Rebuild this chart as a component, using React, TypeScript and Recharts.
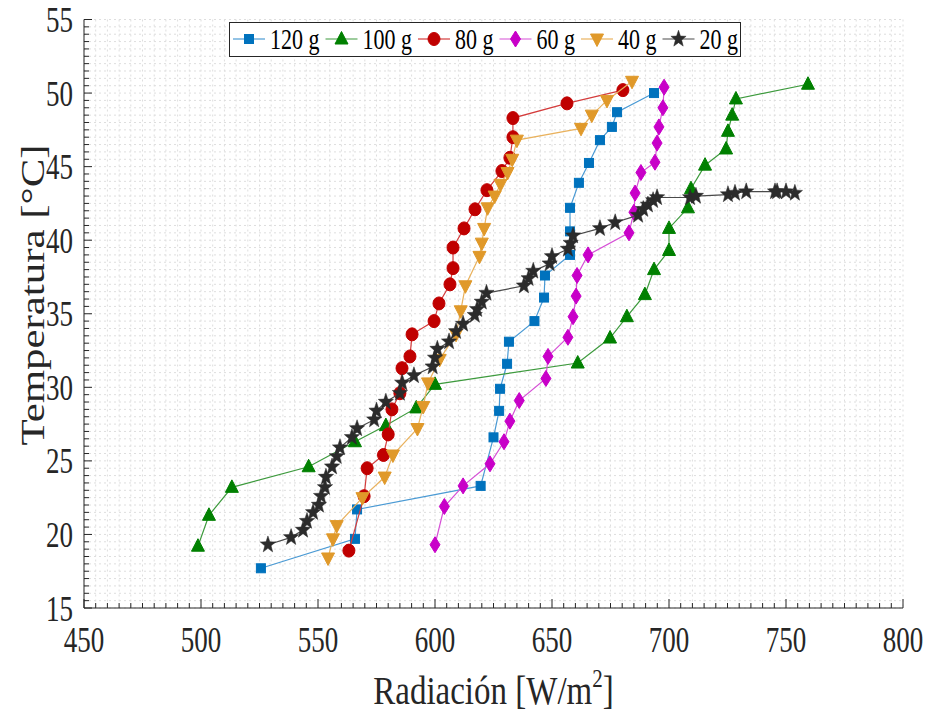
import { ComposedChart, Scatter, XAxis, YAxis, CartesianGrid } from 'recharts';

// Radiación (W/m2) and temperatura (°C), one pair of arrays per sample mass
const rad120 = [525.6, 565.8, 566.7, 619.5, 625, 627.4, 627.8, 630.8, 631.6, 642.5, 646.6, 647, 657.7, 657.7, 657.7, 661.5, 665.8, 670.5, 675.6, 677.8, 693.6];
const temp120 = [17.7, 19.7, 21.7, 23.3, 26.6, 28.4, 29.9, 31.6, 33.1, 34.5, 36.1, 37.6, 39.0, 40.6, 42.2, 43.9, 45.25, 46.8, 47.7, 48.7, 50.0];

const rad100 = [498.7, 503.4, 513.2, 546, 565.8, 579, 592, 600, 661, 674.8, 682, 689.7, 693.6, 700, 700, 708.1, 709.4, 715.4, 724.4, 725.2, 727, 728.6, 759.4];
const temp100 = [19.2, 21.3, 23.2, 24.6, 26.3, 27.4, 28.6, 30.2, 31.65, 33.35, 34.8, 36.3, 38.0, 39.3, 40.8, 42.2, 43.5, 45.1, 46.2, 47.4, 48.5, 49.6, 50.6];

const rad80 = [563.2, 569.7, 571, 578, 580, 581.6, 585, 585.9, 589.3, 590.2, 599.6, 601.7, 606.4, 607.7, 607.7, 612.4, 617.1, 622.2, 628.6, 632, 633.3, 633.3, 656.4, 680.3];
const temp80 = [18.9, 22.6, 24.5, 25.4, 26.8, 28.5, 29.6, 31.3, 32.1, 33.6, 34.5, 35.7, 37.0, 38.1, 39.5, 40.8, 42.1, 43.4, 44.7, 45.6, 47.0, 48.3, 49.3, 50.2];

const rad60 = [600, 604, 612, 623.5, 629.5, 632, 636, 647.4, 648.3, 656.8, 659, 660.3, 660.7, 665.4, 682.9, 685, 685.5, 688, 694, 694.9, 695.7, 697.4, 697.9];
const temp60 = [19.3, 21.9, 23.3, 24.8, 26.3, 27.7, 29.1, 30.6, 32.1, 33.4, 34.8, 36.2, 37.6, 39.0, 40.5, 41.9, 43.2, 44.6, 45.3, 46.6, 47.7, 49.0, 50.4];

const rad40 = [554.3, 556.4, 558, 569, 578.5, 582, 592.5, 595, 597, 602, 609, 611, 613, 619, 620, 621, 622.5, 625.5, 628, 631, 633, 635, 662.4, 667, 673.5, 684.2];
const temp40 = [18.4, 19.7, 20.6, 22.5, 23.9, 25.4, 27.2, 28.7, 30.3, 31.9, 33.6, 35.2, 36.9, 38.9, 39.8, 40.8, 42.2, 43.0, 43.8, 44.6, 45.5, 46.8, 47.6, 48.5, 49.5, 50.8];

const rad20 = [528.6, 538.5, 543.6, 545.3, 547.9, 550.4, 551.3, 553, 553.4, 556, 558, 559.4, 564.5, 566.7, 574, 575, 579, 585, 586, 591, 599, 600, 601, 606, 609, 612, 617, 618, 620, 622, 638, 640, 642, 649, 650, 656.8, 658, 659, 670.5, 677, 686.8, 689, 691, 693.2, 694.9, 709, 711.5, 725.2, 728.2, 733, 745.3, 746.2, 750, 753.8];
const temp20 = [19.3, 19.8, 20.3, 20.9, 21.5, 22.0, 22.6, 23.2, 23.9, 24.6, 25.3, 25.9, 26.6, 27.2, 27.8, 28.4, 29.0, 29.6, 30.3, 30.8, 31.4, 32.0, 32.6, 33.1, 33.8, 34.3, 34.9, 35.3, 35.8, 36.4, 36.9, 37.4, 37.9, 38.4, 38.9, 39.4, 39.8, 40.3, 40.8, 41.2, 41.7, 42.1, 42.4, 42.7, 42.9, 42.9, 43.0, 43.1, 43.2, 43.3, 43.3, 43.3, 43.3, 43.2];

const labels = ['120 g', '100 g', '80 g', '60 g', '40 g', '20 g'];
const xMajorTicks = [450, 500, 550, 600, 650, 700, 750, 800];
const yMajorTicks = [15, 20, 25, 30, 35, 40, 45, 50, 55];

const FONT = '"Liberation Serif", "Times New Roman", serif';
const STRETCH = 1.35; // the original figure is stretched vertically

type Marker = 'square' | 'triUp' | 'circle' | 'diamond' | 'triDown' | 'star';

const series: { name: string; rad: number[]; temp: number[]; color: string; lineColor: string; marker: Marker }[] = [
  { name: labels[0], rad: rad120, temp: temp120, color: '#0072BD', lineColor: '#4a9ad4', marker: 'square' },
  { name: labels[1], rad: rad100, temp: temp100, color: '#008000', lineColor: '#3d9a3d', marker: 'triUp' },
  { name: labels[2], rad: rad80, temp: temp80, color: '#C00000', lineColor: '#d43c3c', marker: 'circle' },
  { name: labels[3], rad: rad60, temp: temp60, color: '#C800C8', lineColor: '#d650d6', marker: 'diamond' },
  { name: labels[4], rad: rad40, temp: temp40, color: '#E0992A', lineColor: '#e9b25e', marker: 'triDown' },
  { name: labels[5], rad: rad20, temp: temp20, color: '#2b2b2b', lineColor: '#4a4a4a', marker: 'star' },
];

// minor grid/tick positions
const xTicks: number[] = [];
for (let v = xMajorTicks[0]; v <= xMajorTicks[xMajorTicks.length - 1]; v += 5) xTicks.push(v);
const yTicks: number[] = [];
for (let v = yMajorTicks[0]; v <= yMajorTicks[yMajorTicks.length - 1]; v += 0.5) yTicks.push(v);

function drawMarker(kind: Marker, cx: number, cy: number, color: string) {
  switch (kind) {
    case 'square':
      return <rect x={cx - 4.5} y={cy - 4.5} width={9} height={9} fill={color} stroke={color} />;
    case 'triUp':
      return <polygon points={`${cx},${cy - 7.5} ${cx + 6.5},${cy + 5} ${cx - 6.5},${cy + 5}`} fill={color} stroke={color} />;
    case 'circle':
      return <ellipse cx={cx} cy={cy} rx={6} ry={6.5} fill={color} stroke={color} />;
    case 'diamond':
      return <polygon points={`${cx},${cy - 8} ${cx + 5},${cy} ${cx},${cy + 8} ${cx - 5},${cy}`} fill={color} stroke={color} />;
    case 'triDown':
      return <polygon points={`${cx - 6.5},${cy - 5} ${cx + 6.5},${cy - 5} ${cx},${cy + 7.5}`} fill={color} stroke={color} />;
    case 'star': {
      const pts: string[] = [];
      for (let i = 0; i < 10; i++) {
        const r = i % 2 === 0 ? 8 : 3.3;
        const a = -Math.PI / 2 + (i * Math.PI) / 5;
        pts.push(`${cx + r * Math.cos(a)},${cy + r * Math.sin(a) * 1.1}`);
      }
      return <polygon points={pts.join(' ')} fill={color} stroke={color} strokeWidth={0.5} />;
    }
  }
}

const XTick = (props: any) => {
  const { x, y, payload } = props;
  const v = payload.value;
  const major = v % 50 === 0;
  return (
    <g>
      <line x1={x} y1={y} x2={x} y2={y - (major ? 9 : 5)} stroke="#262626" />
      {major && (
        <text transform={`translate(${x},${y + 44}) scale(1,${STRETCH})`} textAnchor="middle"
          fontFamily={FONT} fontSize={27} fill="#262626">{v}</text>
      )}
    </g>
  );
};

const YTick = (props: any) => {
  const { x, y, payload } = props;
  const v = payload.value;
  const major = v % 5 === 0;
  return (
    <g>
      <line x1={x} y1={y} x2={x + (major ? 8 : 5)} y2={y} stroke="#262626" />
      {major && (
        <text transform={`translate(${x - 11},${y + 12.5}) scale(1,${STRETCH})`} textAnchor="end"
          fontFamily={FONT} fontSize={27} fill="#262626">{v}</text>
      )}
    </g>
  );
};

function LegendBox() {
  let x = 4;
  const items = series.map((s) => {
    // digits are 0.5em, " g" is 0.75em in Times metrics
    const textW = ((s.name.length - 2) * 0.5 + 0.75) * 22;
    const item = (
      <g key={s.name}>
        <line x1={x} y1={17} x2={x + 32} y2={17} stroke={s.lineColor} strokeWidth={1.2} />
        {drawMarker(s.marker, x + 16, 17, s.color)}
        <text transform={`translate(${x + 37},27) scale(1,${STRETCH})`} fontFamily={FONT} fontSize={22} fill="#000">{s.name}</text>
      </g>
    );
    x += 37 + textW + 6;
    return item;
  });
  return (
    <svg width={513} height={35} style={{ position: 'absolute', left: 229, top: 22 }}>
      <rect x={0.5} y={0.5} width={511} height={34} fill="#fff" stroke="#262626" />
      {items}
    </svg>
  );
}

export default function App() {
  return (
    <div style={{ position: 'absolute', left: 0, top: 0, width: 928, height: 713, background: '#fff' }}>
      <ComposedChart width={928} height={713} margin={{ top: 19.5, right: 25, bottom: 45, left: 14 }}>
        <CartesianGrid stroke="#dedede" strokeDasharray="2 3" />
        <XAxis type="number" dataKey="x" domain={[450, 800]} ticks={xTicks} interval={0}
          allowDataOverflow height={60} tickSize={0} tickMargin={0} tickLine={false}
          axisLine={{ stroke: '#262626' }} tick={<XTick />}
          label={{
            content: (p: any) => {
              const vb = p.viewBox;
              return (
                <text transform={`translate(${vb.x + vb.width / 2},704) scale(1,1.2)`} textAnchor="middle"
                  fontFamily={FONT} fontSize={33} fill="#262626">
                  Radiación [W/m<tspan fontSize={21} dy={-14}>2</tspan><tspan dy={14}>]</tspan>
                </text>
              );
            },
          }} />
        <YAxis type="number" dataKey="y" domain={[15, 55]} ticks={yTicks} interval={0}
          allowDataOverflow width={70} tickSize={0} tickMargin={0} tickLine={false}
          axisLine={{ stroke: '#262626' }} tick={<YTick />}
          label={{
            content: () => (
              <text transform={`translate(44,295) scale(1,1.3) rotate(-90)`} textAnchor="middle"
                fontFamily={FONT} fontSize={33} fill="#262626">Temperatura [°C]</text>
            ),
          }} />
        {series.map((s) => (
          <Scatter key={s.name} name={s.name} data={s.rad.map((r, i) => ({ x: r, y: s.temp[i] }))}
            line={{ stroke: s.lineColor, strokeWidth: 1.2 }} isAnimationActive={false}
            shape={(p: any) => drawMarker(s.marker, p.cx, p.cy, s.color)} />
        ))}
      </ComposedChart>
      <LegendBox />
    </div>
  );
}
